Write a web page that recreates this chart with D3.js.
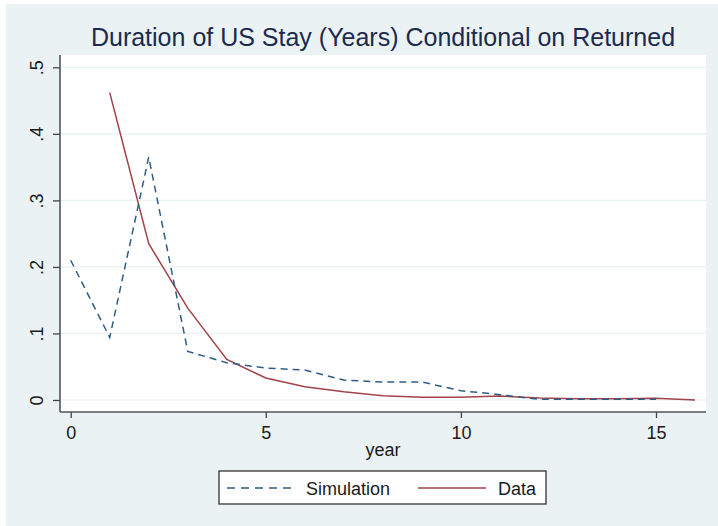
<!DOCTYPE html>
<html>
<head>
<meta charset="utf-8">
<script src="https://cdn.jsdelivr.net/npm/d3@7"></script>
<style>
html,body{margin:0;padding:0;background:#fff;}
svg{display:block;}
text{font-family:"Liberation Sans",Arial,sans-serif;}
</style>
</head>
<body>
<svg id="chart" width="718" height="526"></svg>
<script>
const title = "Duration of US Stay (Years) Conditional on Returned";
const simYears = [0,1,2,3,4,5,6,7,8,9,10,11,12,13,14,15];
const simValues = [0.210,0.094,0.365,0.073,0.056,0.048,0.045,0.030,0.027,0.027,0.014,0.008,0.001,0.001,0.001,0.001];
const dataYears = [1,2,3,4,5,6,7,8,9,10,11,12,13,14,15,16];
const dataValues = [0.462,0.235,0.138,0.061,0.033,0.020,0.0125,0.0065,0.004,0.004,0.006,0.003,0.002,0.002,0.0025,0.0];
const xTicks = [0,5,10,15];
const yTicks = [0,0.1,0.2,0.3,0.4,0.5];
const yTickLabels = ["0",".1",".2",".3",".4",".5"];
const seriesNames = ["Simulation","Data"];

const svg = d3.select("#chart");
const W = 718, H = 526;
svg.append("rect").attr("x",0).attr("y",0).attr("width",W).attr("height",H).attr("fill","#ffffff");
svg.append("rect").attr("x",6).attr("y",4).attr("width",W-6).attr("height",H-4).attr("fill","#eaf2f3");

const plot = {left:60, right:706, top:55, bottom:412};
svg.append("rect").attr("x",plot.left).attr("y",plot.top)
  .attr("width",plot.right-plot.left).attr("height",plot.bottom-plot.top).attr("fill","#ffffff");

const x = d3.scaleLinear().domain([0,15]).range([70.7,656]);
const y = d3.scaleLinear().domain([0,0.5]).range([400,67.3]);

// gridlines
svg.append("g").selectAll("line").data(yTicks).join("line")
  .attr("x1",plot.left).attr("x2",plot.right)
  .attr("y1",d=>y(d)).attr("y2",d=>y(d))
  .attr("stroke","#eaf2f3").attr("stroke-width",1.2);

// title
svg.append("text").attr("x",383).attr("y",46).attr("text-anchor","middle")
  .attr("font-size",25).attr("fill","#1c2a50").text(title);

// y axis
const yAxis = d3.axisLeft(y).tickValues(yTicks).tickSize(7).tickFormat((d,i)=>yTickLabels[i]);
const gy = svg.append("g").attr("transform",`translate(${plot.left},0)`).call(yAxis);
gy.select(".domain").attr("d",`M0,${plot.top}V${plot.bottom}`).attr("stroke","#555").attr("stroke-width",1.6);
gy.selectAll(".tick line").attr("stroke","#444").attr("stroke-width",1.3);
gy.selectAll(".tick text").attr("font-size",18).attr("fill","#1a1a1a")
  .attr("font-family","Liberation Sans, Arial, sans-serif")
  .attr("text-anchor","middle").attr("dy",null).attr("x",null)
  .attr("transform","translate(-17,0) rotate(-90)");

// x axis
const xAxis = d3.axisBottom(x).tickValues(xTicks).tickSize(6).tickFormat(d3.format("d"));
const gx = svg.append("g").attr("transform",`translate(0,${plot.bottom})`).call(xAxis);
gx.select(".domain").attr("d",`M${plot.left},0H${plot.right}`).attr("stroke","#555").attr("stroke-width",1.6);
gx.selectAll(".tick line").attr("stroke","#444").attr("stroke-width",1.3);
gx.selectAll(".tick text").attr("font-size",18).attr("fill","#1a1a1a")
  .attr("font-family","Liberation Sans, Arial, sans-serif")
  .attr("dy",null).attr("y",27);

svg.append("text").attr("x",383).attr("y",456).attr("text-anchor","middle")
  .attr("font-size",18).attr("fill","#1a1a1a").text("year");

// lines
const line = d3.line().x(d=>x(d[0])).y(d=>y(d[1]));
const simPts = simYears.map((d,i)=>[d,simValues[i]]);
const dataPts = dataYears.map((d,i)=>[d,dataValues[i]]);
svg.append("path").datum(dataPts).attr("d",line).attr("fill","none")
  .attr("stroke","#a0434a").attr("stroke-width",1.5);
svg.append("path").datum(simPts).attr("d",line).attr("fill","none")
  .attr("stroke","#2f5c87").attr("stroke-width",1.5).attr("stroke-dasharray","7,5");

// legend
const lg = svg.append("g");
lg.append("rect").attr("x",219).attr("y",471).attr("width",327).attr("height",33)
  .attr("fill","#ffffff").attr("stroke","#333").attr("stroke-width",1.3);
lg.append("line").attr("x1",227).attr("x2",296).attr("y1",488).attr("y2",488)
  .attr("stroke","#2f5c87").attr("stroke-width",1.5).attr("stroke-dasharray","8,6");
lg.append("text").attr("x",306).attr("y",494.5).attr("font-size",18).attr("fill","#1a1a1a").text(seriesNames[0]);
lg.append("line").attr("x1",418).attr("x2",486).attr("y1",488).attr("y2",488)
  .attr("stroke","#a0434a").attr("stroke-width",1.5);
lg.append("text").attr("x",498).attr("y",494.5).attr("font-size",18).attr("fill","#1a1a1a").text(seriesNames[1]);
</script>
</body>
</html>
